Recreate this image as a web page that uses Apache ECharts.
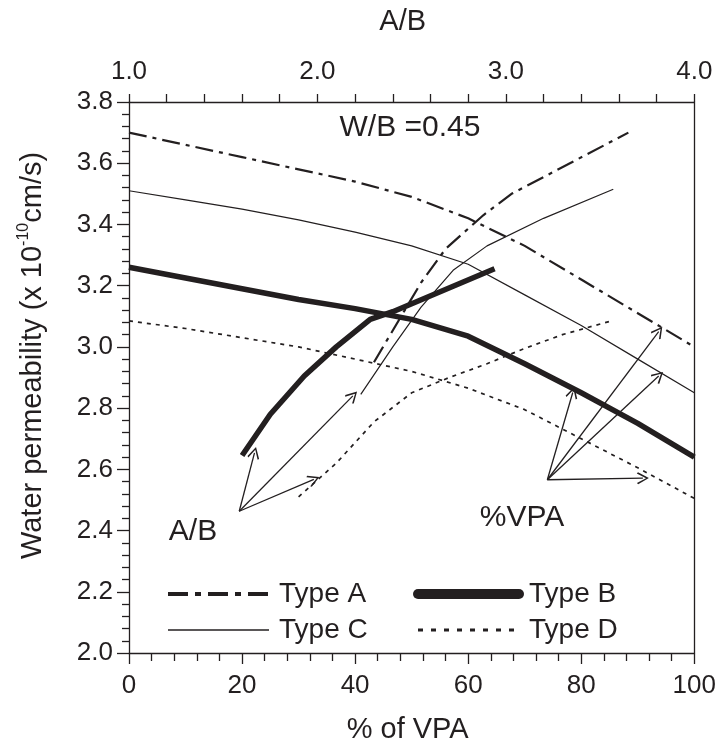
<!DOCTYPE html>
<html><head><meta charset="utf-8">
<script src="https://cdn.jsdelivr.net/npm/echarts@6/dist/echarts.min.js"></script>
<style>html,body{margin:0;padding:0;background:#fff}#c{width:719px;height:749px}</style>
</head><body><div id="c"></div><script>
// %VPA axis (bottom) data
const vpa   = [0,10,20,30,40,50,60,70,80,90,100];
const typeA = [3.70,3.66,3.62,3.58,3.54,3.49,3.42,3.33,3.22,3.11,3.00];
const typeB = [3.26,3.225,3.19,3.155,3.125,3.09,3.035,2.945,2.85,2.75,2.64];
const typeC = [3.51,3.48,3.45,3.415,3.375,3.33,3.27,3.17,3.07,2.96,2.85];
const typeD = [3.085,3.06,3.03,3.00,2.96,2.92,2.865,2.795,2.70,2.605,2.505];
// A/B axis (top) data
const abA_x = [2.30,2.55,2.68,2.88,3.03,3.34,3.65];
const abA_y = [2.95,3.21,3.32,3.43,3.50,3.60,3.70];
const abB_x = [1.60,1.75,1.93,2.10,2.28,2.40,2.94];
const abB_y = [2.645,2.78,2.905,3.00,3.09,3.115,3.255];
const abC_x = [2.23,2.40,2.55,2.72,2.90,3.20,3.57];
const abC_y = [2.845,3.00,3.13,3.25,3.33,3.42,3.515];
const abD_x = [1.90,2.10,2.30,2.50,2.70,2.90,3.10,3.30,3.56];
const abD_y = [2.51,2.62,2.755,2.85,2.90,2.945,2.995,3.04,3.085];
// annotation arrows in (%VPA, permeability) coords: [x0,y0,x1,y1]
const arrowsAB  = [[19.5,2.463,22.2,2.654],[19.5,2.463,39.6,2.84],[19.5,2.463,32.7,2.567]];
const arrowsVPA = [[74,2.566,78.5,2.851],[74,2.566,93.7,3.05],[74,2.566,93.7,2.905],[74,2.566,90.9,2.571]];

const FONT = 'Liberation Sans';
const INK = '#231f20';
const pair = (xs, ys) => xs.map((x,i)=>[x, ys[i]]);
const styles = {
  'Type A': {width:2.2, type:[18,6,4,6]},
  'Type B': {width:5.5, type:'solid'},
  'Type C': {width:1.2, type:'solid'},
  'Type D': {width:1.7, type:[4,5]}
};
function lineSeries(name, data, xi, sname){
  return {type:'line', name: sname, xAxisIndex:xi, yAxisIndex:0, data, symbol:'none', showSymbol:false, smooth:false,
    itemStyle:{color:INK}, lineStyle:Object.assign({color:INK, cap:'butt', join:'round'}, styles[name]),
    silent:true, animation:false, z:3};
}
const arrowSym = 'path://M5,0 L10,9 L9,10 L5,2.4 L1,10 L0,9 Z';
function arrowSeries(list){
  return {type:'line', xAxisIndex:0, yAxisIndex:0, data:[], silent:true, animation:false,
    markLine:{silent:true, symbol:['none', arrowSym], symbolSize:12, animation:false,
      label:{show:false}, lineStyle:{color:INK, width:1.3, type:'solid'},
      emphasis:{disabled:true},
      data:list.map(a=>[{coord:[a[0],a[1]]},{coord:[a[2],a[3]]}])}};
}
const series = [
  lineSeries('Type A', pair(vpa,typeA), 0, 'Type A'),
  lineSeries('Type B', pair(vpa,typeB), 0, 'Type B'),
  lineSeries('Type C', pair(vpa,typeC), 0, 'Type C'),
  lineSeries('Type D', pair(vpa,typeD), 0, 'Type D'),
  lineSeries('Type A', pair(abA_x,abA_y), 1, 'A (A/B)'),
  lineSeries('Type B', pair(abB_x,abB_y), 1, 'B (A/B)'),
  lineSeries('Type C', pair(abC_x,abC_y), 1, 'C (A/B)'),
  lineSeries('Type D', pair(abD_x,abD_y), 1, 'D (A/B)'),
  arrowSeries(arrowsAB), arrowSeries(arrowsVPA)
];
const lab = {color:INK, fontFamily:FONT, fontSize:26};
const legendCommon = {orient:'vertical', itemWidth:101, itemHeight:28, itemGap:8,
  itemStyle:{opacity:0},
  textStyle:{color:INK, fontFamily:FONT, fontSize:28, lineHeight:28, padding:[0,0,0,5]}, selectedMode:false};
const chart = echarts.init(document.getElementById('c'), null, {renderer:'canvas'});
chart.setOption({
  animation:false,
  grid:{left:129, right:20, top:102, bottom:91},
  legend:[
    Object.assign({left:161, top:575, data:[
      {name:'Type A', lineStyle:{width:4, type:[20,7,6,7]}},
      {name:'Type C', lineStyle:{width:1.3}}]}, legendCommon),
    Object.assign({left:408, top:575, data:[
      {name:'Type B', lineStyle:{width:10, cap:'round'}},
      {name:'Type D', lineStyle:{width:3, type:[5,8]}}]}, legendCommon)
  ],
  xAxis:[
    {type:'value', position:'bottom', min:0, max:100, interval:20,
     name:'% of VPA', nameLocation:'middle', nameGap:62, nameTextStyle:{color:INK, fontFamily:FONT, fontSize:29, padding:[0,8,0,0]},
     axisLine:{lineStyle:{color:INK, width:1.3}}, axisTick:{length:11, lineStyle:{color:INK, width:1.3}},
     minorTick:{show:true, splitNumber:5, length:8, lineStyle:{color:INK, width:1.3}},
     axisLabel:Object.assign({margin:20}, lab), splitLine:{show:false}},
    {type:'value', position:'top', min:1, max:4, interval:1,
     name:'A/B', nameLocation:'middle', nameGap:66, nameTextStyle:{color:INK, fontFamily:FONT, fontSize:29, padding:[0,18,0,0]},
     axisLine:{onZero:false, lineStyle:{color:INK, width:1.3}}, axisTick:{length:8, lineStyle:{color:INK, width:1.3}},
     minorTick:{show:true, splitNumber:5, length:8, lineStyle:{color:INK, width:1.3}},
     axisLabel:Object.assign({margin:17, formatter:v=>v.toFixed(1)}, lab), splitLine:{show:false}}
  ],
  yAxis:[
    {type:'value', position:'left', min:2.0, max:3.8, interval:0.2,
     name:'{p|Water permeability (x 10}{s|-10}{a|cm/s)}', nameLocation:'middle', nameGap:79, nameRotate:90,
     nameTextStyle:{color:INK, fontFamily:FONT, fontSize:29,
       rich:{p:{color:INK, fontFamily:FONT, fontSize:29, lineHeight:34, padding:[0,0,0,44]},
             a:{color:INK, fontFamily:FONT, fontSize:29, lineHeight:34},
             s:{color:INK, fontFamily:FONT, fontSize:16, lineHeight:34, verticalAlign:'top', padding:[0,0,14,0]}}},
     axisLine:{onZero:false, lineStyle:{color:INK, width:1.3}}, axisTick:{length:12, lineStyle:{color:INK, width:1.3}},
     minorTick:{show:true, splitNumber:5, length:7, lineStyle:{color:INK, width:1.3}},
     axisLabel:Object.assign({margin:16, formatter:v=>v.toFixed(1)}, lab), splitLine:{show:false}},
    {type:'value', position:'right', min:2.0, max:3.8, interval:0.2,
     axisLine:{show:true, onZero:false, lineStyle:{color:INK, width:1.3}}, axisTick:{show:false},
     axisLabel:{show:false}, splitLine:{show:false}}
  ],
  graphic:[
    {type:'text', style:{text:'W/B =0.45', fill:INK, font:'30px "Liberation Sans"', x:410, y:128, align:'center', verticalAlign:'middle'}},
    {type:'text', style:{text:'A/B', fill:INK, font:'30px "Liberation Sans"', x:193, y:532, align:'center', verticalAlign:'middle'}},
    {type:'text', style:{text:'%VPA', fill:INK, font:'30px "Liberation Sans"', x:522, y:518, align:'center', verticalAlign:'middle'}}
  ],
  series
});
</script></body></html>
